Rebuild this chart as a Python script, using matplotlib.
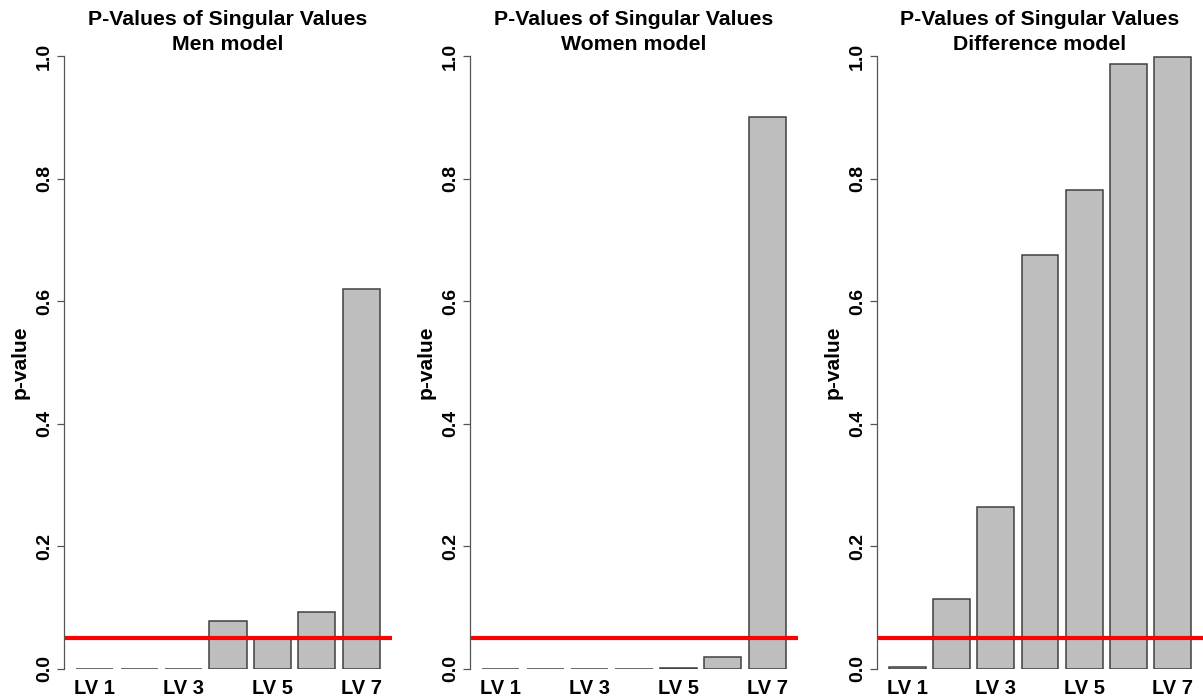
import numpy as np
import matplotlib.pyplot as plt

plt.rcParams['font.family'] = ['Liberation Sans', 'DejaVu Sans']
plt.rcParams['font.weight'] = 'bold'

labels = ['LV 1', 'LV 2', 'LV 3', 'LV 4', 'LV 5', 'LV 6', 'LV 7']
men = [0.0003, 0.0003, 0.0003, 0.078, 0.053, 0.0925, 0.620]
women = [0.0003, 0.0003, 0.0003, 0.0003, 0.0018, 0.019, 0.900]
diff = [0.004, 0.115, 0.264, 0.676, 0.782, 0.987, 0.998]
panels = [('Men model', men), ('Women model', women), ('Difference model', diff)]
threshold = 0.05

W, H = 1203, 699
fig = plt.figure(figsize=(W / 100, H / 100), dpi=100)

# plot regions in pixels (left, right)
regions = [(64, 392), (470, 798), (877, 1203)]
top, bottom = 56, 669

# R barplot geometry: width 1, space 0.2
centers = 0.7 + 1.2 * np.arange(len(labels))

for (name, vals), (l, r) in zip(panels, regions):
    ax = fig.add_axes([l / W, 1 - bottom / H, (r - l) / W, (bottom - top) / H])
    ax.bar(centers, vals, width=1.0, color='#bebebe', edgecolor='#404040', linewidth=1.1)
    ax.axhline(threshold, color='red', linewidth=3)
    ax.set_xlim(-0.128, 8.728)
    ax.set_ylim(0, 1)
    for s in ['top', 'right', 'bottom']:
        ax.spines[s].set_visible(False)
    ax.spines['left'].set_bounds(0, 1)
    ax.spines['left'].set_color('#555555')
    ax.spines['left'].set_linewidth(0.9)
    ax.set_yticks(np.arange(0, 1.01, 0.2))
    ax.set_yticklabels(['%.1f' % v for v in np.arange(0, 1.01, 0.2)],
                       rotation=90, va='center', fontsize=14, fontweight='bold')
    ax.tick_params(axis='y', length=5, width=0.9, color='#555555', pad=3)
    ax.set_xticks(centers[::2])
    ax.set_xticklabels(labels[::2], fontsize=14.5, fontweight='bold')
    ax.tick_params(axis='x', length=0, pad=7)
    ax.set_ylabel('p-value', fontsize=15, fontweight='bold')
    ax.yaxis.set_label_coords(-34 / (r - l), 0.5)
    ax.set_title('P-Values of Singular Values\n' + name, fontsize=15.3,
                 fontweight='bold', pad=4, linespacing=1.4)

fig.savefig('out.png', dpi=100)
